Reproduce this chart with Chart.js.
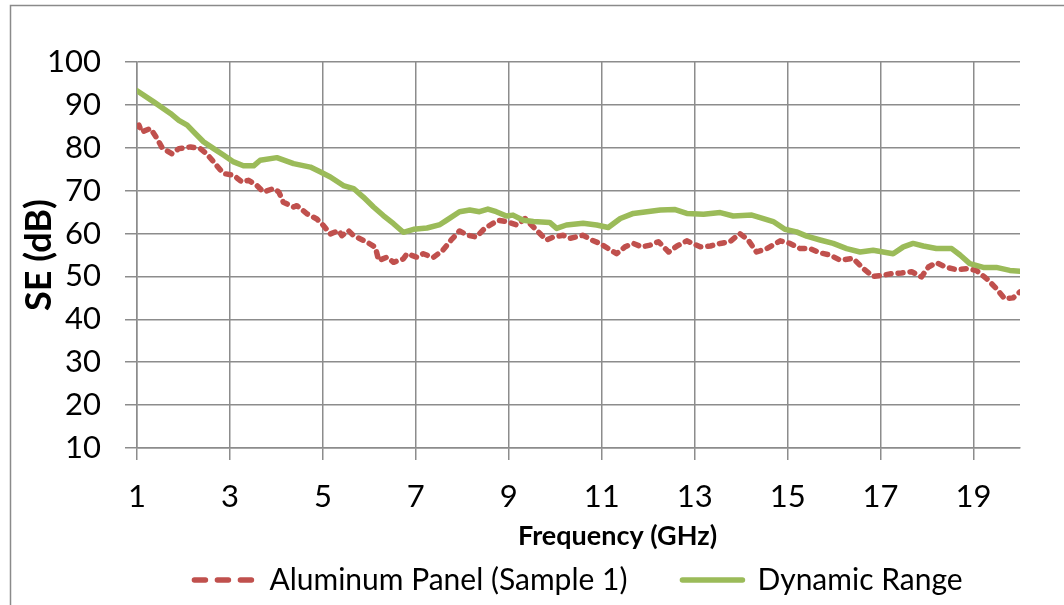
<!DOCTYPE html>
<html>
<head>
<meta charset="utf-8">
<title>SE vs Frequency</title>
<script src="https://cdn.jsdelivr.net/npm/chart.js@4.4.1/dist/chart.umd.min.js"></script>
<style>
  html, body { margin: 0; padding: 0; background: #ffffff; }
  #wrap { position: relative; width: 1064px; height: 605px; overflow: hidden; }
  canvas { display: block; }
</style>
</head>
<body>
<div id="wrap"><canvas id="chart" width="1064" height="605"></canvas></div>
<script>
// Aluminum panel, sample 1: shielding effectiveness (dB) against frequency (GHz)
const freqAluminum = [
  1.00, 1.04, 1.10, 1.29, 1.43, 1.54, 1.75, 1.90, 2.15, 2.36, 2.50, 2.68, 2.86, 3.08, 3.26, 3.40,
  3.58, 3.72, 3.94, 4.05, 4.15, 4.37, 4.44, 4.66, 4.87, 5.01, 5.16, 5.34, 5.41, 5.55, 5.66, 5.95,
  6.13, 6.20, 6.38, 6.52, 6.73, 6.81, 7.02, 7.16, 7.37, 7.58, 7.76, 7.94, 8.12, 8.30, 8.48, 8.77,
  8.95, 9.17, 9.35, 9.56, 9.81, 9.96, 10.17, 10.32, 10.60, 10.78, 10.96, 11.14, 11.32, 11.50, 11.68, 11.86,
  12.04, 12.22, 12.44, 12.62, 12.83, 13.12, 13.34, 13.55, 13.76, 13.97, 14.15, 14.33, 14.55, 14.84, 15.05, 15.27,
  15.48, 15.70, 15.91, 16.13, 16.41, 16.63, 16.84, 17.06, 17.27, 17.45, 17.67, 17.88, 18.03, 18.20, 18.42, 18.63,
  18.85, 19.06, 19.28, 19.49, 19.67, 19.85, 20.00
];
const seAluminum = [
  85.0, 85.3, 83.7, 84.5, 82.2, 80.0, 78.6, 79.8, 80.2, 79.8, 78.6, 76.3, 74.0, 73.6, 72.0, 72.4,
  71.2, 69.7, 70.5, 69.7, 67.3, 66.2, 66.5, 64.6, 63.4, 61.9, 59.9, 60.7, 59.5, 60.7, 59.5, 58.0,
  56.8, 53.7, 54.5, 53.3, 54.1, 55.3, 54.5, 55.3, 54.4, 56.1, 58.5, 60.6, 59.6, 59.2, 61.2, 63.1,
  62.8, 62.0, 63.5, 61.2, 58.5, 59.2, 59.6, 58.9, 59.6, 58.5, 57.7, 56.5, 55.3, 56.9, 57.7, 56.9,
  57.3, 58.1, 55.7, 57.1, 58.3, 56.9, 57.1, 57.7, 58.1, 60.0, 58.5, 55.7, 56.5, 58.3, 57.7, 56.5,
  56.5, 55.5, 55.0, 53.8, 54.2, 51.8, 50.0, 50.3, 50.7, 50.8, 51.1, 49.9, 52.2, 53.2, 52.1, 51.6,
  51.8, 51.4, 49.5, 47.2, 44.8, 45.0, 46.4
];

// Dynamic range of the measurement system
const freqDynamic = [
  1.00, 1.36, 1.72, 1.90, 2.08, 2.22, 2.43, 2.65, 2.86, 3.08, 3.29, 3.51, 3.65, 4.01, 4.37, 4.73,
  4.94, 5.16, 5.44, 5.66, 5.87, 6.09, 6.30, 6.52, 6.73, 6.95, 7.24, 7.52, 7.65, 7.94, 8.16, 8.37,
  8.55, 8.73, 8.95, 9.09, 9.31, 9.53, 9.88, 10.03, 10.24, 10.60, 10.89, 11.14, 11.40, 11.68, 11.97, 12.26,
  12.58, 12.83, 13.19, 13.55, 13.83, 14.23, 14.48, 14.69, 14.94, 15.19, 15.41, 15.70, 15.98, 16.27, 16.56, 16.84,
  17.27, 17.49, 17.70, 17.92, 18.20, 18.53, 18.71, 18.92, 19.21, 19.49, 19.78, 20.00
];
const seDynamic = [
  93.3, 90.7, 88.0, 86.4, 85.3, 83.7, 81.4, 79.8, 78.3, 76.7, 75.8, 75.8, 77.1, 77.7, 76.3, 75.5,
  74.4, 73.2, 71.2, 70.5, 68.5, 66.2, 64.2, 62.3, 60.3, 61.0, 61.3, 62.1, 63.0, 65.1, 65.5, 65.1,
  65.7, 65.1, 64.1, 64.3, 63.1, 62.8, 62.6, 61.2, 62.0, 62.4, 62.0, 61.4, 63.5, 64.7, 65.1, 65.5,
  65.6, 64.7, 64.5, 64.9, 64.1, 64.3, 63.5, 62.8, 61.0, 60.4, 59.4, 58.5, 57.7, 56.5, 55.7, 56.1,
  55.3, 56.9, 57.7, 57.1, 56.5, 56.5, 55.0, 53.0, 52.1, 52.1, 51.4, 51.2
];

const xTickValues = [1, 3, 5, 7, 9, 11, 13, 15, 17, 19];
const seriesNames = ['Aluminum Panel (Sample 1)', 'Dynamic Range'];
const xAxisTitle = 'Frequency (GHz)';
const yAxisTitle = 'SE (dB)';

const FONT = 'Lato, "Open Sans", "DejaVu Sans", sans-serif';
const GRID = '#8c8c8c';
const RED = '#C0504D';
const GREEN = '#9BBB59';

const toPoints = (xs, ys) => xs.map((x, i) => ({ x: x, y: ys[i] }));

// Outer frame of the chart object
const framePlugin = {
  id: 'frame',
  beforeDraw(chart) {
    const ctx = chart.ctx;
    ctx.save();
    ctx.strokeStyle = '#8a8a8a';
    ctx.lineWidth = 1.5;
    ctx.strokeRect(10.5, 5.5, chart.width + 20, chart.height + 20);
    ctx.restore();
  }
};

// Horizontal axis title, set slightly right of the plot centre
const xTitlePlugin = {
  id: 'xTitle',
  afterDraw(chart) {
    const xs = chart.scales.x;
    const ctx = chart.ctx;
    ctx.save();
    ctx.fillStyle = '#000000';
    ctx.font = 'bold 27px ' + FONT;
    ctx.textAlign = 'center';
    ctx.textBaseline = 'middle';
    ctx.fillText(xAxisTitle, (xs.left + xs.right) / 2 + 39, xs.bottom + 26);
    ctx.restore();
  }
};

new Chart(document.getElementById('chart'), {
  type: 'line',
  data: {
    datasets: [
      {
        label: seriesNames[0],
        data: toPoints(freqAluminum, seAluminum),
        borderColor: RED,
        backgroundColor: RED,
        borderWidth: 5.5,
        borderDash: [5, 7],
        borderCapStyle: 'round',
        borderJoinStyle: 'round',
        pointRadius: 0,
        tension: 0,
        order: 2
      },
      {
        label: seriesNames[1],
        data: toPoints(freqDynamic, seDynamic),
        borderColor: GREEN,
        backgroundColor: GREEN,
        borderWidth: 5.5,
        borderCapStyle: 'round',
        borderJoinStyle: 'round',
        pointRadius: 0,
        tension: 0,
        order: 1
      }
    ]
  },
  options: {
    responsive: false,
    animation: false,
    devicePixelRatio: 1,
    layout: { padding: { top: 62, right: 44, bottom: 0, left: 0 } },
    plugins: {
      tooltip: { enabled: false },
      legend: {
        position: 'bottom',
        fullSize: false,
        labels: {
          font: { family: FONT, size: 30 },
          color: '#000000',
          usePointStyle: true,
          pointStyle: 'line',
          pointStyleWidth: 60,
          padding: 55,
          sort: (a, b) => a.datasetIndex - b.datasetIndex,
          generateLabels(chart) {
            const items = Chart.defaults.plugins.legend.labels.generateLabels(chart);
            items.forEach((it) => {
              const ds = chart.data.datasets[it.datasetIndex];
              it.lineDash = ds.borderDash ? [11, 12] : [];
              it.lineCap = 'round';
              it.lineWidth = 5.5;
              it.strokeStyle = ds.borderColor;
              it.fillStyle = ds.borderColor;
            });
            return items;
          }
        }
      }
    },
    scales: {
      x: {
        type: 'linear',
        min: 1,
        max: 20,
        afterBuildTicks(scale) {
          scale.ticks = xTickValues.map((v) => ({ value: v }));
        },
        afterFit(scale) { scale.height = 62; },
        ticks: {
          font: { family: FONT, size: 31 },
          color: '#000000',
          padding: 18,
          maxRotation: 0,
          autoSkip: false,
          callback: (v) => String(v)
        },
        grid: { color: GRID, lineWidth: 1.5, tickLength: 12, drawTicks: true },
        border: { color: GRID, width: 1.5 }
      },
      y: {
        min: 10,
        max: 100,
        afterFit(scale) { scale.width = 137; },
        ticks: {
          stepSize: 10,
          font: { family: FONT, size: 31 },
          color: '#000000',
          padding: 24
        },
        grid: { color: GRID, lineWidth: 1.5, tickLength: 12 },
        border: { color: GRID, width: 1.5 },
        title: {
          display: true,
          text: yAxisTitle,
          font: { family: FONT, size: 36, weight: 'bold' },
          color: '#000000',
          padding: { top: 18, bottom: 0 }
        }
      }
    }
  },
  plugins: [framePlugin, xTitlePlugin]
});
</script>
</body>
</html>
